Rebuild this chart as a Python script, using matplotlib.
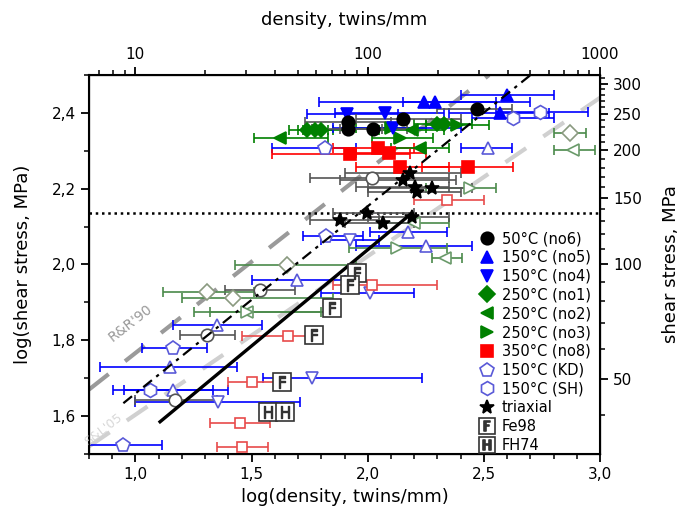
import numpy as np
import matplotlib
matplotlib.use("Agg")
import matplotlib.pyplot as plt
from matplotlib.ticker import MultipleLocator, FuncFormatter, FixedLocator, NullFormatter
from matplotlib.lines import Line2D

# ---- data (log10 density, log10 stress, error bar low/high in log density) ----
# filled series
no6_x = [1.916, 1.916, 2.024, 2.153, 2.469]
no6_y = [2.377, 2.357, 2.357, 2.383, 2.409]
no6_lo = [1.73, 1.76, 1.88, 1.95, 2.30]
no6_hi = [2.10, 2.06, 2.17, 2.40, 2.62]

no5_x = [2.242, 2.289, 2.598, 2.569]
no5_y = [2.430, 2.430, 2.447, 2.400]
no5_lo = [1.79, 2.15, 2.40, 2.35]
no5_hi = [2.55, 2.70, 2.80, 2.78]

no4_x = [1.909, 2.074, 2.110]
no4_y = [2.396, 2.399, 2.360]
no4_lo = [1.74, 1.86, 1.85]
no4_hi = [2.13, 2.33, 2.40]

no1_x = [1.737, 1.773, 1.800, 2.300, 2.330]
no1_y = [2.355, 2.355, 2.355, 2.370, 2.370]
no1_lo = [1.66, 1.70, 1.72, 2.20, 2.25]
no1_hi = [1.83, 1.85, 1.90, 2.40, 2.45]

no2_x = [1.622, 2.225, 2.190]
no2_y = [2.333, 2.307, 2.355]
no2_lo = [1.51, 2.10, 2.05]
no2_hi = [1.83, 2.35, 2.33]

no3_x = [2.139, 2.383, 2.100]
no3_y = [2.334, 2.368, 2.360]
no3_lo = [2.02, 2.25, 1.95]
no3_hi = [2.28, 2.52, 2.25]

no8_x = [1.924, 2.046, 2.093, 2.139, 2.433]
no8_y = [2.291, 2.307, 2.293, 2.258, 2.258]
no8_lo = [1.59, 1.85, 1.95, 1.95, 2.232]
no8_hi = [2.18, 2.20, 2.25, 2.35, 2.627]

tri_x = [2.153, 2.182, 2.203, 2.275, 2.210, 1.995, 1.880, 2.067, 2.189]
tri_y = [2.223, 2.241, 2.205, 2.201, 2.192, 2.135, 2.117, 2.109, 2.126]
tri_lo = [1.88, 1.90, 1.95, 2.00, 2.00, 1.85, 1.75, 1.90, 2.00]
tri_hi = [2.38, 2.40, 2.35, 2.45, 2.40, 2.20, 2.05, 2.20, 2.35]

# open series with legend
kd_x = [0.948, 1.163, 1.816, 1.820]
kd_y = [1.524, 1.779, 2.307, 2.075]
kd_lo = [0.80, 1.027, 1.59, 1.72]
kd_hi = [1.113, 1.307, 1.95, 1.98]

sh_x = [1.063, 2.627, 2.741]
sh_y = [1.669, 2.386, 2.403]
sh_lo = [0.905, 2.45, 2.55]
sh_hi = [1.334, 2.80, 2.95]

# open (unlabelled) points
otri_x = [1.694, 1.350, 1.149, 1.163, 2.519, 2.250, 2.175]
otri_y = [1.959, 1.840, 1.730, 1.669, 2.307, 2.050, 2.086]
otri_lo = [1.50, 1.16, 0.847, 0.95, 2.40, 1.95, 2.01]
otri_hi = [1.90, 1.545, 1.436, 1.40, 2.62, 2.45, 2.34]

odown_x = [1.759, 1.357, 2.010, 1.924]
odown_y = [1.700, 1.638, 1.925, 2.065]
odown_lo = [1.55, 0.998, 1.80, 1.80]
odown_hi = [2.232, 1.708, 2.20, 2.05]

ocirc_x = [1.536, 1.307, 1.170, 2.017]
ocirc_y = [1.933, 1.814, 1.643, 2.227]
ocirc_lo = [1.385, 1.19, 1.00, 1.75]
ocirc_hi = [1.687, 1.43, 1.35, 2.35]

odia_x = [1.651, 1.307, 1.421, 2.870]
odia_y = [1.999, 1.928, 1.911, 2.346]
odia_lo = [1.43, 1.12, 1.20, 2.80]
odia_hi = [1.95, 1.51, 1.85, 2.94]

oleft_x = [1.479, 2.333, 2.885, 2.200]
oleft_y = [1.875, 2.016, 2.302, 2.110]
oleft_lo = [1.32, 2.275, 2.80, 2.05]
oleft_hi = [1.80, 2.404, 2.98, 2.35]

oright_x = [1.479, 2.125, 2.440]
oright_y = [1.875, 2.043, 2.201]
oright_lo = [1.25, 1.92, 2.25]
oright_hi = [1.85, 2.34, 2.55]

osq_x = [1.658, 1.500, 1.450, 1.457, 2.017, 2.340]
osq_y = [1.811, 1.691, 1.583, 1.519, 1.946, 2.170]
osq_lo = [1.46, 1.40, 1.32, 1.35, 1.85, 2.20]
osq_hi = [1.75, 1.60, 1.58, 1.57, 2.30, 2.50]

fe98_x = [1.770, 1.629, 1.952, 1.924, 1.845]
fe98_y = [1.815, 1.691, 1.977, 1.946, 1.884]
fh74_x = [1.572, 1.644]
fh74_y = [1.612, 1.612]

# lines
solid_x = [1.106, 2.189]
solid_y = [1.585, 2.135]
dashdot_x = [0.948, 2.711]
dashdot_y = [1.634, 2.505]
rr90_x = [0.80, 2.522]
rr90_y = [1.670, 2.500]
light_x = [0.80, 3.00]
light_y = [1.520, 2.440]
dotted_y = 2.135

BLUE = "#0000ff"
GREEN = "#008000"
RED = "#ff0000"
OBLUE = "#5a5ad8"
OGREEN = "#4a8a4a"
OGREY = "#555555"
ORED = "#e84a4a"

fig = plt.figure(figsize=(6.86, 5.18), dpi=100)
ax = fig.add_axes([0.1297, 0.1236, 0.745, 0.7316])


def series(x, y, lo, hi, marker, color, ecolor, filled=True, ms=8, z=3):
    x = np.array(x)
    err = [x - np.array(lo), np.array(hi) - x]
    ax.errorbar(x, y, xerr=err, fmt="none", ecolor=ecolor, elinewidth=1.2,
                capsize=3.5, capthick=1.2, zorder=z)
    ax.plot(x, y, linestyle="none", marker=marker, ms=ms,
            mfc=color if filled else "white", mec=color, mew=1.2, zorder=z + 1)


# lines
ax.plot(light_x, light_y, color="#d0d0d0", lw=3, dashes=(6, 5), zorder=1)
ax.plot(rr90_x, rr90_y, color="#9a9a9a", lw=3, dashes=(6, 5), zorder=1)
ax.plot(dashdot_x, dashdot_y, color="black", lw=1.6, dashes=(5, 2.5, 1.5, 2.5), zorder=6)
ax.plot(solid_x, solid_y, color="black", lw=2.4, zorder=6)
ax.axhline(dotted_y, color="black", lw=1.8, ls=(0, (1, 1.5)), zorder=2)

# open points
series(otri_x, otri_y, otri_lo, otri_hi, "^", OBLUE, BLUE, filled=False, ms=9)
series(odown_x, odown_y, odown_lo, odown_hi, "v", OBLUE, BLUE, filled=False, ms=9)
series(ocirc_x, ocirc_y, ocirc_lo, ocirc_hi, "o", OGREY, OGREY, filled=False, ms=9)
series(odia_x, odia_y, odia_lo, odia_hi, "D", "#8a9a80", OGREEN, filled=False, ms=8)
series(oleft_x, oleft_y, oleft_lo, oleft_hi, "<", "#6a9a6a", OGREEN, filled=False, ms=9)
series(oright_x, oright_y, oright_lo, oright_hi, ">", "#6a9a6a", OGREEN, filled=False, ms=9)
series(osq_x, osq_y, osq_lo, osq_hi, "s", ORED, ORED, filled=False, ms=7)
series(kd_x, kd_y, kd_lo, kd_hi, "p", OBLUE, BLUE, filled=False, ms=10)
series(sh_x, sh_y, sh_lo, sh_hi, "h", OBLUE, BLUE, filled=False, ms=10)

# filled points
series(no8_x, no8_y, no8_lo, no8_hi, "s", RED, RED, ms=8)
series(no1_x, no1_y, no1_lo, no1_hi, "D", GREEN, GREEN, ms=7)
series(no2_x, no2_y, no2_lo, no2_hi, "<", GREEN, GREEN, ms=9)
series(no3_x, no3_y, no3_lo, no3_hi, ">", GREEN, GREEN, ms=9)
series(no4_x, no4_y, no4_lo, no4_hi, "v", BLUE, BLUE, ms=9)
series(no5_x, no5_y, no5_lo, no5_hi, "^", BLUE, BLUE, ms=9)
series(no6_x, no6_y, no6_lo, no6_hi, "o", "black", OGREY, ms=9)
series(tri_x, tri_y, tri_lo, tri_hi, "*", "black", OGREY, ms=10)

# boxed literature points
ax.plot(fe98_x, fe98_y, ls="none", marker="s", ms=13, mfc="white", mec="#333333", mew=1.2, zorder=7)
ax.plot(fe98_x, fe98_y, ls="none", marker=r"$\mathsf{F}$", ms=8, color="#333333", zorder=8)
ax.plot(fh74_x, fh74_y, ls="none", marker="s", ms=13, mfc="white", mec="#333333", mew=1.2, zorder=7)
ax.plot(fh74_x, fh74_y, ls="none", marker=r"$\mathsf{H}$", ms=8, color="#333333", zorder=8)

# line labels
ax.text(0.977, 1.846, "R&R'90", rotation=38, color="#9a9a9a", fontsize=10,
        ha="center", va="center")
ax.text(0.86, 1.565, "S&L'05", rotation=38, color="#d8d8d8", fontsize=9,
        ha="center", va="center")

# axes
ax.set_xlim(0.8, 3.0)
ax.set_ylim(1.5, 2.5)
ax.xaxis.set_major_locator(MultipleLocator(0.5))
ax.xaxis.set_minor_locator(MultipleLocator(0.1))
ax.yaxis.set_major_locator(MultipleLocator(0.2))
ax.yaxis.set_minor_locator(MultipleLocator(0.1))
comma = FuncFormatter(lambda v, p: f"{v:.1f}".replace(".", ","))
ax.xaxis.set_major_formatter(comma)
ax.yaxis.set_major_formatter(comma)
ax.tick_params(which="major", length=6, width=1.3, labelsize=11, direction="out")
ax.tick_params(which="minor", length=3.5, width=1.1, direction="out")
for s in ax.spines.values():
    s.set_linewidth(1.5)
ax.set_xlabel("log(density, twins/mm)", fontsize=13)
ax.set_ylabel("log(shear stress, MPa)", fontsize=13, labelpad=14)

axt = ax.twiny()
axt.set_xscale("log")
axt.set_xlim(10 ** 0.8, 10 ** 3.0)
axt.xaxis.set_major_locator(FixedLocator([10, 100, 1000]))
axt.xaxis.set_major_formatter(FuncFormatter(lambda v, p: f"{v:.0f}"))
axt.xaxis.set_minor_formatter(NullFormatter())
axt.tick_params(which="major", length=6, width=1.3, labelsize=11)
axt.tick_params(which="minor", length=3.5, width=1.1)
axt.set_xlabel("density, twins/mm", fontsize=13, labelpad=16)

axr = ax.twinx()
axr.set_yscale("log")
axr.set_ylim(10 ** 1.5, 10 ** 2.5)
axr.yaxis.set_major_locator(FixedLocator([50, 100, 150, 200, 250, 300]))
axr.yaxis.set_minor_locator(FixedLocator([40, 60, 70, 80, 90, 110, 120, 130, 140, 160, 170, 180, 190,
                                          210, 220, 230, 240, 260, 270, 280, 290, 310]))
axr.yaxis.set_major_formatter(FuncFormatter(lambda v, p: f"{v:.0f}"))
axr.yaxis.set_minor_formatter(NullFormatter())
axr.tick_params(which="major", length=6, width=1.3, labelsize=11)
axr.tick_params(which="minor", length=3.5, width=1.1)
axr.set_ylabel("shear stress, MPa", fontsize=13, labelpad=14)

# legend
def mk(marker, color, filled=True, ms=9):
    return Line2D([], [], ls="none", marker=marker, ms=ms,
                  mfc=color if filled else "white", mec=color, mew=1.2)

handles = [mk("o", "black"), mk("^", BLUE), mk("v", BLUE), mk("D", GREEN, ms=8),
           mk("<", GREEN), mk(">", GREEN), mk("s", RED, ms=8),
           mk("p", OBLUE, filled=False, ms=10), mk("h", OBLUE, filled=False, ms=10),
           mk("*", "black", ms=10),
           (mk("s", "#333333", filled=False, ms=12), mk(r"$\mathsf{F}$", "#333333", ms=7)),
           (mk("s", "#333333", filled=False, ms=12), mk(r"$\mathsf{H}$", "#333333", ms=7))]
labels = ["50°C (no6)", "150°C (no5)", "150°C (no4)", "250°C (no1)", "250°C (no2)",
          "250°C (no3)", "350°C (no8)", "150°C (KD)", "150°C (SH)", "triaxial",
          "Fe98", "FH74"]
ax.legend(handles, labels, loc="upper left", bbox_to_anchor=(0.745, 0.615), frameon=False,
          fontsize=10.5, handlelength=1.0, handletextpad=0.5, labelspacing=0.26,
          borderpad=0.2)

fig.savefig("out.png", dpi=100)
